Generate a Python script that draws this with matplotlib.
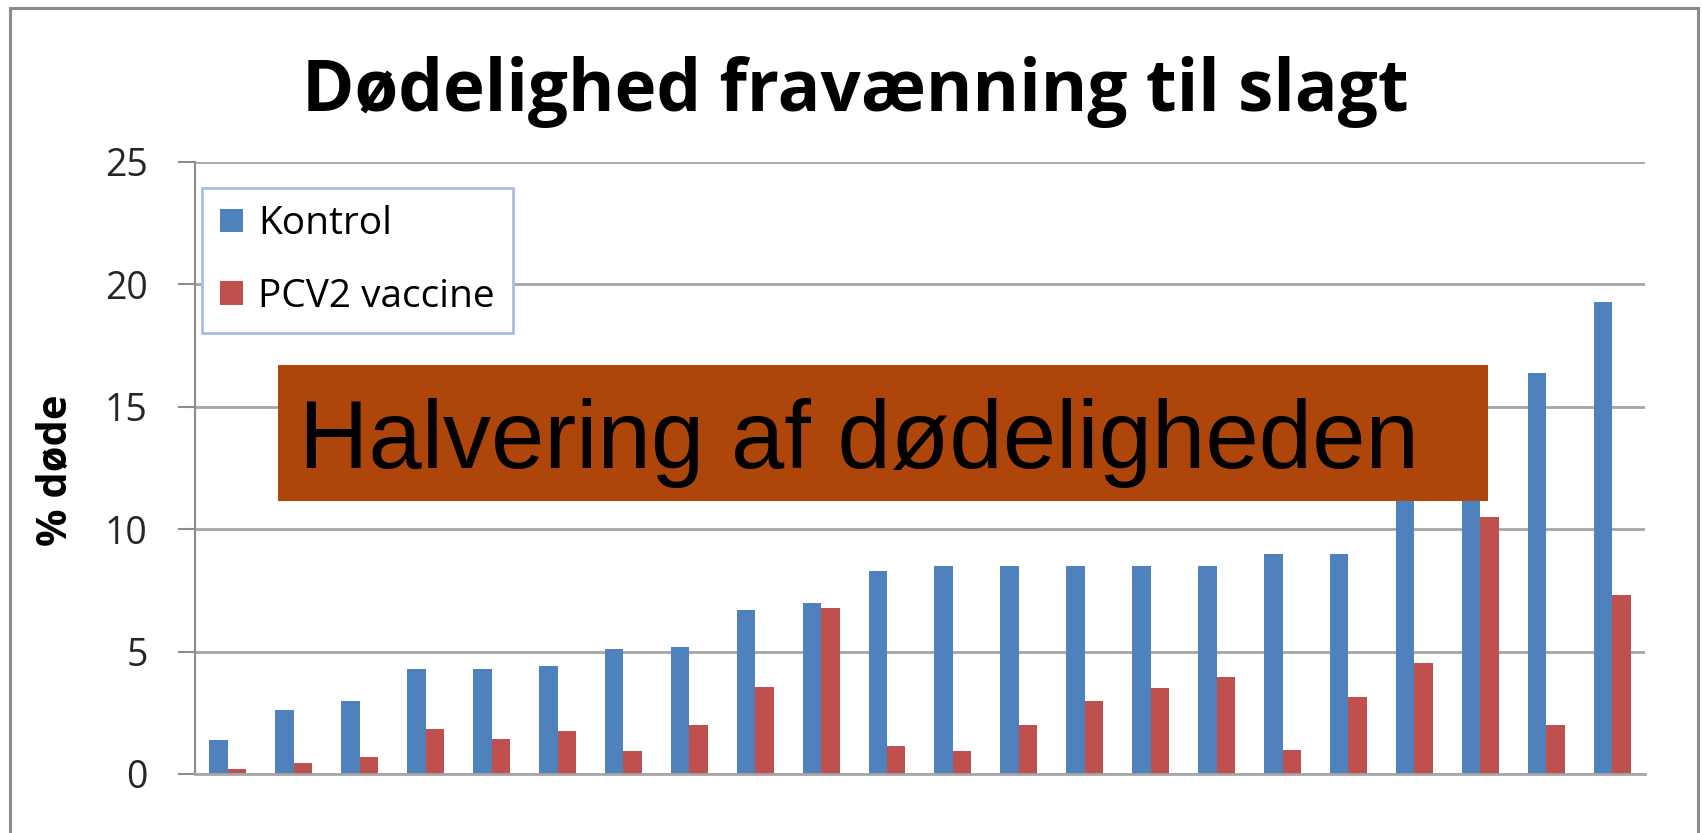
import numpy as np
import matplotlib.pyplot as plt
from matplotlib.patches import Rectangle, Patch

# ---- data (22 herds, sorted by Kontrol) ----
kontrol = [1.4, 2.6, 3.0, 4.3, 4.3, 4.4, 5.1, 5.2, 6.7, 7.0, 8.3,
           8.5, 8.5, 8.5, 8.5, 8.5, 9.0, 9.0, 12.5, 14.0, 16.4, 19.3]
pcv2 = [0.2, 0.45, 0.7, 1.85, 1.45, 1.75, 0.95, 2.0, 3.55, 6.8, 1.15,
        0.95, 2.0, 3.0, 3.5, 3.95, 1.0, 3.15, 4.55, 10.5, 2.0, 7.3]
series_names = ["Kontrol", "PCV2 vaccine"]
yticks = [0, 5, 10, 15, 20, 25]

blue = "#4F81BD"
red = "#C0504D"
grid_col = "#A6A6A6"
font = "Open Sans"

W, H = 1702, 833
fig = plt.figure(figsize=(W / 100, H / 100), dpi=100)

# axes placed in pixel terms
left, right, top, bottom = 195, 1645, 162, 774
ax = fig.add_axes([left / W, 1 - bottom / H, (right - left) / W, (bottom - top) / H])

x = np.arange(len(kontrol))
w = 0.28
ax.bar(x - w / 2, kontrol, w, color=blue, zorder=2, label=series_names[0])
ax.bar(x + w / 2, pcv2, w, color=red, zorder=2, label=series_names[1])

ax.set_xlim(-0.5, len(kontrol) - 0.5)
ax.set_ylim(0, 25)
ax.set_yticks(yticks)
ax.set_xticks([])
ax.yaxis.grid(True, color=grid_col, linewidth=2, zorder=0)
ax.set_axisbelow(True)
for s in ["top", "right"]:
    ax.spines[s].set_visible(False)
ax.spines["left"].set_color("#8C8C8C")
ax.spines["left"].set_linewidth(1.5)
ax.spines["bottom"].set_color(grid_col)
ax.spines["bottom"].set_linewidth(2)
ax.tick_params(axis="y", direction="out", length=12, width=1.5, color="#8C8C8C",
               pad=22, labelsize=27, labelcolor="#262626")
for lab in ax.get_yticklabels():
    lab.set_family(font)

ax.set_ylabel("% døde", fontsize=30, fontweight="bold", family=font)
ax.yaxis.label.set_va("center")
ax.yaxis.set_label_coords(56 / W, 1 - 470 / H, transform=fig.transFigure)

# title
fig.text(855 / W, 1 - 111 / H, "Dødelighed fravænning til slagt", ha="center",
         va="baseline", fontsize=51, fontweight="bold", family=font)

# legend
handles = [Patch(facecolor=blue), Patch(facecolor=red)]
leg = ax.legend(handles, series_names, loc="upper left",
                bbox_to_anchor=(202 / W, 1 - 188 / H), bbox_transform=fig.transFigure,
                borderaxespad=0, prop={"family": font, "size": 28},
                handlelength=0.6, handleheight=0.54, handletextpad=0.4,
                labelspacing=0.88, borderpad=0.45, fancybox=False, framealpha=1)
leg.get_frame().set_edgecolor("#A7BFE4")
leg.get_frame().set_linewidth(2)
leg.set_zorder(5)

# orange annotation box
fig.patches.append(Rectangle((278 / W, 1 - 501 / H), (1488 - 278) / W, (501 - 365) / H,
                             transform=fig.transFigure, facecolor="#AE460C",
                             edgecolor="none", zorder=10))
fig.text(299 / W, 1 - 468 / H, "Halvering af dødeligheden", ha="left", va="baseline",
         fontsize=69, family="Liberation Sans", color="black", zorder=11)

# outer chart frame
fig.patches.append(Rectangle((10 / W, -0.1), (1698 - 10) / W, 1 - 8 / H + 0.1,
                             transform=fig.transFigure, facecolor="none",
                             edgecolor="#8A8A8A", linewidth=2.2, zorder=12))

fig.savefig("out.png", dpi=100)
